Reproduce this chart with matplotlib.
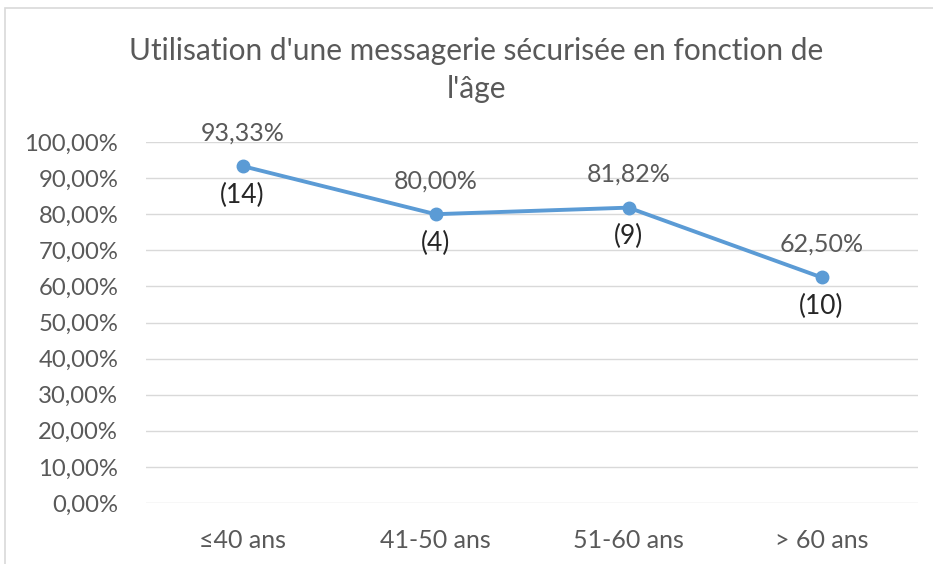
import matplotlib.pyplot as plt
from matplotlib.ticker import FuncFormatter
from matplotlib.patches import Rectangle

categories = ['≤40 ans', '41-50 ans', '51-60 ans', '> 60 ans']
values = [93.33, 80.00, 81.82, 62.50]
counts = [14, 4, 9, 10]

plt.rcParams['font.family'] = ['Lato', 'DejaVu Sans']

fig = plt.figure(figsize=(9.33, 5.64), dpi=100)
ax = fig.add_axes([146 / 933, 1 - 503 / 564, (918 - 146) / 933, (503 - 142) / 564])

# cadre du graphique
fig.patches.append(Rectangle((5 / 933, -0.1), 1.2, 1 - 8 / 564 + 0.1, transform=fig.transFigure,
                             fill=False, edgecolor='#d9d9d9', linewidth=1.2))

x = list(range(len(categories)))
ax.plot(x, values, color='#5B9BD5', linewidth=2.8, marker='o', markersize=9, zorder=3)

for i, (v, c) in enumerate(zip(values, counts)):
    ax.annotate(f'{v:.2f}%'.replace('.', ','), (i, v), xytext=(0, 24), textcoords='offset points',
                ha='center', va='center', fontsize=18, color='#595959')
    ax.annotate(f'({c})', (i, v), xytext=(0, -21), textcoords='offset points',
                ha='center', va='center', fontsize=19, color='#262626')

ax.set_xlim(-0.5, 3.5)
ax.set_ylim(0, 100)
ax.set_yticks(range(0, 101, 10))
ax.yaxis.set_major_formatter(FuncFormatter(lambda y, p: f'{y:.2f}%'.replace('.', ',')))
ax.set_xticks(x)
ax.set_xticklabels(categories)
ax.tick_params(length=0, labelsize=18, labelcolor='#595959')
ax.tick_params(axis='y', labelsize=17.2, pad=20)
ax.tick_params(axis='x', pad=19)
ax.grid(axis='y', color='#d9d9d9', linewidth=1)
ax.set_axisbelow(True)
for s in ax.spines.values():
    s.set_visible(False)

fig.text(476 / 933, 1 - 70 / 564, "Utilisation d'une messagerie sécurisée en fonction de\nl'âge",
         ha='center', va='center', fontsize=21.5, color='#595959', linespacing=1.45)

fig.savefig('out.png', dpi=100)
